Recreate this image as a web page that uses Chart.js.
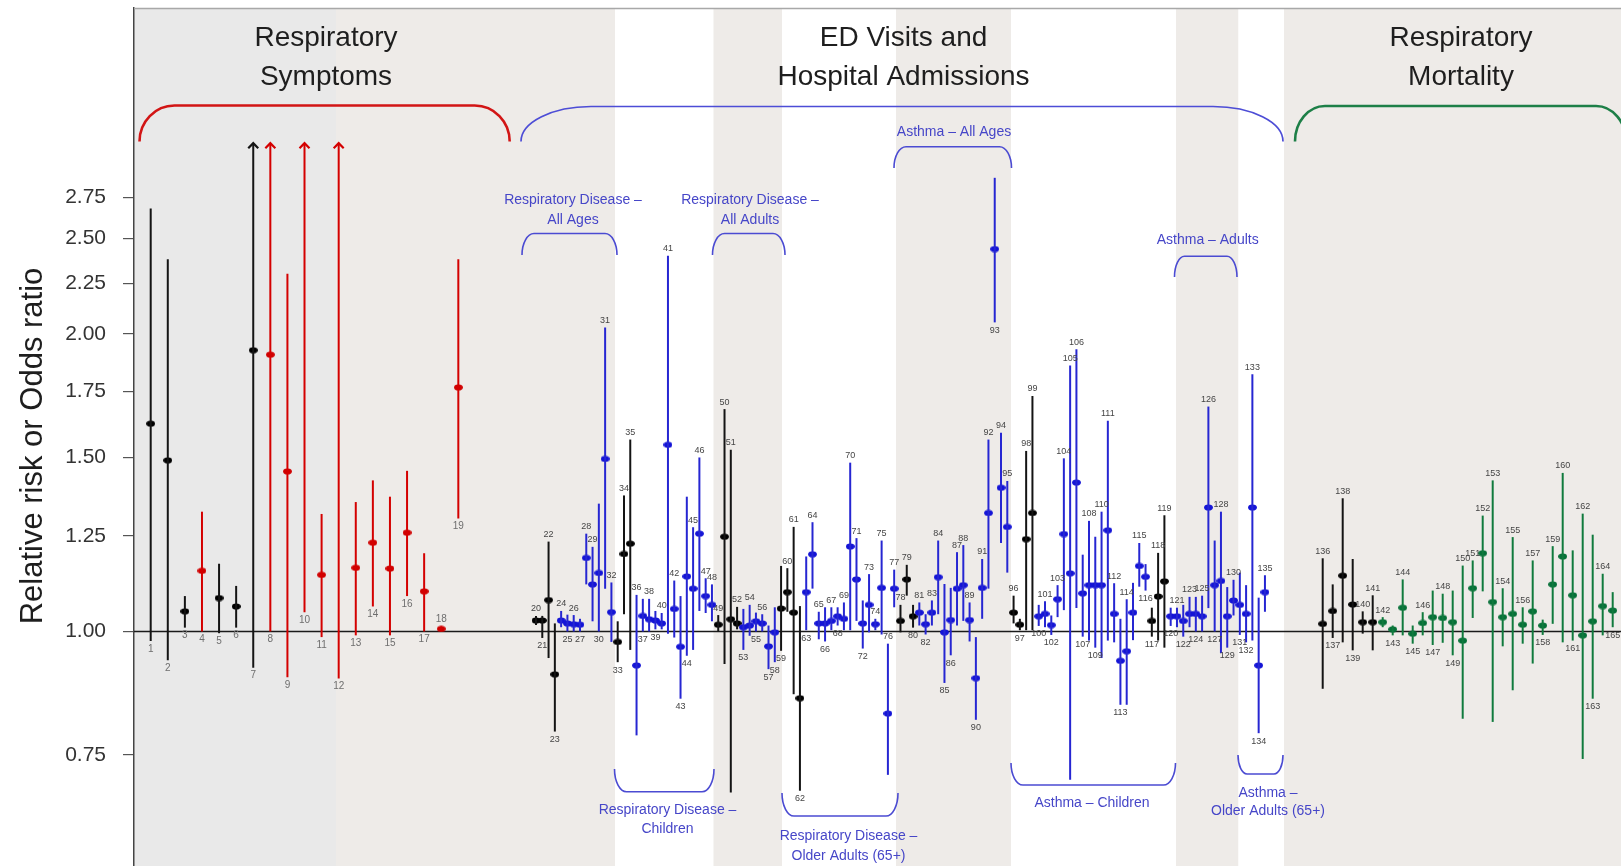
<!DOCTYPE html>
<html>
<head>
<meta charset="utf-8">
<script src="https://cdn.jsdelivr.net/npm/chart.js@4.4.0/dist/chart.umd.min.js"></script>
<style>
  html, body { margin: 0; padding: 0; background: #fff; }
  canvas { display: block; }
</style>
</head>
<body>
<canvas id="forest" width="1621" height="866"></canvas>
<script>
const yTicks = [0.75, 1.00, 1.25, 1.50, 1.75, 2.00, 2.25, 2.50, 2.75];

// Respiratory symptoms (studies 1-19)
const symLabels = [1, 2, 3, 4, 5, 6, 7, 8, 9, 10, 11, 12, 13, 14, 15, 16, 17, 18, 19];
const symEst  = [1.623, 1.49, 1.048, 1.152, 1.081, 1.06, 1.926, 1.906, 1.452, null, 1.141, null, 1.16, 1.23, 1.158, 1.259, 1.098, 1.006, 1.766];
const symLow  = [0.978, 0.935, 1.009, 1.0, 0.996, 1.009, 0.919, 1.0, 0.899, 1.046, 0.987, 0.896, 0.991, 1.06, 0.991, 1.086, 1.0, 1.0, 1.301];
const symHigh = [2.68, 2.38, 1.086, 1.322, 1.171, 1.112, 3.12, 3.12, 2.302, 3.12, 1.315, 3.12, 1.352, 1.422, 1.369, 1.454, 1.2, 1.012, 2.38];
const symKind = 'kkkrkkkrrrrrrrrrrrr'.split('');
const symSide = 'bbbbbbbbbbbbbbbbbab'.split('');
const openTop = [7, 8, 10, 12];   // upper limit runs off the scale

// ED visits and hospital admissions (studies 20-135, one unnumbered estimate after 114)
const edLabels = [20, 21, 22, 23, 24, 25, 26, 27, 28, 29, 30, 31, 32, 33, 34, 35, 36, 37, 38, 39,
  40, 41, 42, 43, 44, 45, 46, 47, 48, 49, 50, 51, 52, 53, 54, 55, 56, 57, 58, 59,
  60, 61, 62, 63, 64, 65, 66, 67, 68, 69, 70, 71, 72, 73, 74, 75, 76, 77, 78, 79,
  80, 81, 82, 83, 84, 85, 86, 87, 88, 89, 90, 91, 92, 93, 94, 95, 96, 97, 98, 99,
  100, 101, 102, 103, 104, 105, 106, 107, 108, 109, 110, 111, 112, 113, 114, null, 115, 116, 117, 118, 119,
  120, 121, 122, 123, 124, 125, 126, 127, 128, 129, 130, 131, 132, 133, 134, 135];
const edEst = [1.026, 1.026, 1.076, 0.905, 1.026, 1.019, 1.017, 1.016, 1.187, 1.116,
  1.146, 1.495, 1.046, 0.976, 1.198, 1.227, 0.924, 1.037, 1.029, 1.026,
  1.019, 1.545, 1.054, 0.965, 1.137, 1.105, 1.256, 1.086, 1.064, 1.016,
  1.247, 1.029, 1.019, 1.010, 1.014, 1.024, 1.019, 0.966, 0.998, 1.055,
  1.096, 1.045, 0.856, 1.096, 1.197, 1.019, 1.019, 1.025, 1.036, 1.030,
  1.219, 1.129, 1.019, 1.064, 1.017, 1.107, 0.826, 1.105, 1.025, 1.129,
  1.036, 1.045, 1.017, 1.045, 1.135, 0.998, 1.027, 1.105, 1.114, 1.027,
  0.897, 1.107, 1.318, 2.438, 1.398, 1.276, 1.045, 1.016, 1.240, 1.318,
  1.036, 1.042, 1.015, 1.078, 1.255, 1.145, 1.415, 1.093, 1.114, 1.114,
  1.114, 1.266, 1.042, 0.934, 0.955, 1.045, 1.165, 1.136, 1.025, 1.085, 1.124,
  1.036, 1.036, 1.025, 1.042, 1.042, 1.036, 1.335, 1.114, 1.125, 1.036,
  1.075, 1.064, 1.042, 1.335, 0.924, 1.096];
const edLow = [1.015, 0.985, 0.94, 0.792, 1.01, 1.0, 1.0, 1.0, 1.116, 1.024,
  1.0, 1.105, 0.976, 0.931, 1.041, 0.958, 0.785, 1.0, 1.0, 1.005,
  1.005, 0.995, 0.986, 0.855, 0.945, 0.958, 1.049, 1.044, 1.024, 1.0,
  0.927, 0.687, 1.005, 0.958, 0.99, 1.0, 1.0, 0.916, 0.931, 0.956,
  1.047, 0.864, 0.69, 1.003, 1.105, 0.982, 0.977, 1.003, 1.014, 1.003,
  1.003, 1.025, 0.961, 0.998, 1.003, 0.993, 0.716, 1.058, 0.998, 1.087,
  1.009, 1.014, 0.993, 1.014, 1.041, 0.887, 0.946, 1.014, 1.025, 0.977,
  0.814, 1.03, 1.105, 2.055, 1.229, 1.147, 1.019, 1.003, 1.003, 1.003,
  1.013, 1.01, 0.992, 1.034, 1.051, 0.708, 1.056, 0.988, 0.979, 0.963,
  0.94, 0.979, 0.975, 0.843, 0.843, 0.98, 1.11, 1.10, 0.988, 0.979, 0.963,
  1.013, 1.01, 0.988, 1.01, 1.0, 1.0, 1.056, 1.0, 0.951, 0.963,
  1.038, 0.992, 0.975, 0.979, 0.789, 1.047];
const edHigh = [1.037, 1.037, 1.233, 1.019, 1.049, 1.04, 1.039, 1.03, 1.256, 1.218,
  1.347, 2.031, 1.121, 1.024, 1.373, 1.564, 1.089, 1.079, 1.079, 1.049,
  1.044, 2.4, 1.126, 1.086, 1.369, 1.275, 1.5, 1.132, 1.116, 1.039,
  1.679, 1.527, 1.059, 1.054, 1.064, 1.045, 1.041, 1.014, 1.058, 1.165,
  1.159, 1.276, 1.061, 1.191, 1.29, 1.047, 1.058, 1.058, 1.058, 1.07,
  1.482, 1.243, 1.075, 1.143, 1.03, 1.236, 0.972, 1.155, 1.064, 1.168,
  1.064, 1.07, 1.041, 1.075, 1.236, 1.117, 1.107, 1.203, 1.223, 1.07,
  0.987, 1.184, 1.564, 2.878, 1.589, 1.42, 1.087, 1.03, 1.523, 1.731,
  1.064, 1.073, 1.038, 1.114, 1.497, 1.859, 1.93, 1.196, 1.294, 1.247,
  1.322, 1.634, 1.119, 1.03, 1.078, 1.12, 1.229, 1.17, 1.057, 1.201, 1.311,
  1.057, 1.057, 1.064, 1.084, 1.084, 1.087, 1.689, 1.236, 1.322, 1.109,
  1.128, 1.147, 1.114, 1.821, 1.082, 1.14];
const edKind = ('kkkk' + 'bbbbbbbbb' + 'kkk' + 'bbbbbbbbbbbbb' + 'kkkk' + 'bbbbbb' + 'kkkk' +
  'bbbbbbbbbbbbbbb' + 'kkk' + 'bbbbbbbbbbbbbbb' + 'kkkk' + 'bbbbbbbbbbbbbbb' + 'b' + 'bb' + 'kkk' +
  'bbbbbbbbbbbbbbbb').split('');
const edSide = ('ababababaa' + 'baabaaabab' + 'aaabbaaaaa' + 'aaabababbb' + 'aabbaababa' +
  'aabaaaaaaa' + 'babaabbaaa' + 'baabaaabaa' + 'babaaaabab' + 'aaaba' + '-' + 'abbaa' +
  'bababaabab' + 'abbaba').split('');

// Respiratory mortality (studies 136-165)
const mortLabels = [136, 137, 138, 139, 140, 141, 142, 143, 144, 145, 146, 147, 148, 149, 150,
  151, 152, 153, 154, 155, 156, 157, 158, 159, 160, 161, 162, 163, 164, 165];
const mortEst  = [1.018, 1.049, 1.139, 1.065, 1.022, 1.022, 1.022, 1.005, 1.057, 0.995, 1.02, 1.034, 1.032, 1.022, 0.979,
  1.106, 1.2, 1.071, 1.034, 1.042, 1.016, 1.048, 1.014, 1.116, 1.191, 1.088, 0.991, 1.024, 1.061, 1.05];
const mortLow  = [0.875, 0.985, 0.975, 0.957, 0.995, 0.957, 1.01, 0.991, 0.991, 0.972, 0.991, 0.969, 0.974, 0.946, 0.816,
  1.032, 1.098, 0.81, 0.966, 0.872, 0.972, 0.928, 0.992, 1.018, 0.975, 0.979, 0.743, 0.855, 0.991, 1.01];
const mortHigh = [1.186, 1.116, 1.364, 1.184, 1.048, 1.088, 1.034, 1.014, 1.129, 1.014, 1.046, 1.1, 1.092, 1.1, 1.166,
  1.18, 1.31, 1.422, 1.106, 1.246, 1.058, 1.18, 1.028, 1.22, 1.447, 1.208, 1.316, 1.253, 1.144, 1.096];
const mortKind = 'kkkkkkgggggggggggggggggggggggg'.split('');
const mortSide = ('ababaaabab' + 'ababaaaaaa' + 'aabaababab').split('');

// ---- look ----
const FONT = '"Liberation Sans", Arial, Helvetica, sans-serif';
const inkOf = { k: '#141414', r: '#d40000', b: '#2626d2', g: '#107a3d' };
const dotOf = { k: '#000000', r: '#d00000', b: '#1414d6', g: '#067038' };

const panels = [
  { labels: symLabels, est: symEst, low: symLow, high: symHigh, kind: symKind, side: symSide,
    first: 16.7, step: 17.09, labelSize: 10, labelInk: '#6e6e6e' },
  { labels: edLabels, est: edEst, low: edLow, high: edHigh, kind: edKind, side: edSide,
    first: 402, step: 6.284, labelSize: 9, labelInk: '#454545' },
  { labels: mortLabels, est: mortEst, low: mortLow, high: mortHigh, kind: mortKind, side: mortSide,
    first: 1188.7, step: 10, labelSize: 9, labelInk: '#454545' }
];

const items = panels.flatMap(p => p.labels.map((lab, i) => ({
  x: p.first + i * p.step,
  label: lab,
  est: p.est[i], low: p.low[i], high: p.high[i],
  kind: p.kind[i], side: p.side[i],
  size: p.labelSize, ink: p.labelInk
})));

// shaded background bands along x (chart units)
const bands = [
  [0, 202, '#e9e9e9'], [202, 481, '#eeebe8'], [481, 579.5, '#ffffff'], [579.5, 648, '#eeebe8'],
  [648, 762, '#ffffff'], [762, 877, '#eeebe8'], [877, 1042, '#ffffff'], [1042, 1104.5, '#eeebe8'],
  [1104.5, 1150, '#ffffff'], [1150, 1487, '#eeebe8']
];

const makeDot = color => {
  const c = document.createElement('canvas');
  c.width = 9; c.height = 7;
  const g = c.getContext('2d');
  g.fillStyle = color;
  g.beginPath();
  g.ellipse(4.5, 3.5, 4.4, 3.1, 0, 0, Math.PI * 2);
  g.fill();
  return c;
};
const dots = {};
Object.keys(dotOf).forEach(k => dots[k] = makeDot(dotOf[k]));

// confidence intervals as one broken line, points as a scatter set
const ciData = [];
items.forEach(it => {
  ciData.push({ x: it.x, y: it.low }, { x: it.x, y: it.high }, { x: it.x, y: null });
});
const withEst = items.filter(it => it.est !== null);
const estData = withEst.map(it => ({ x: it.x, y: it.est }));

const brace = (ctx, x0, x1, yFlat, yEnd, rx) => {
  const ry = Math.abs(yEnd - yFlat);
  ctx.beginPath();
  if (yEnd > yFlat) {
    ctx.ellipse(x0 + rx, yEnd, rx, ry, 0, Math.PI, Math.PI * 1.5);
    ctx.lineTo(x1 - rx, yFlat);
    ctx.ellipse(x1 - rx, yEnd, rx, ry, 0, Math.PI * 1.5, Math.PI * 2);
  } else {
    ctx.ellipse(x0 + rx, yEnd, rx, ry, 0, Math.PI, Math.PI * 0.5, true);
    ctx.lineTo(x1 - rx, yFlat);
    ctx.ellipse(x1 - rx, yEnd, rx, ry, 0, Math.PI * 0.5, 0, true);
  }
  ctx.stroke();
};

const braces = [
  { x0: 139.5, x1: 509.7, flat: 105.5, end: 141.5, rx: 35, ink: '#d21515', w: 2.6 },
  { x0: 521, x1: 1283, flat: 106.5, end: 141.5, rx: 70, ink: '#4d4dd6', w: 1.7 },
  { x0: 1295, x1: 1626, flat: 106, end: 141.5, rx: 30, ink: '#1d7f47', w: 2.6 },
  { x0: 522, x1: 617, flat: 233.5, end: 255, rx: 12, ink: '#4b4bd2', w: 1.6 },
  { x0: 712.5, x1: 785, flat: 233.5, end: 255, rx: 12, ink: '#4b4bd2', w: 1.6 },
  { x0: 894, x1: 1011.5, flat: 146.7, end: 168, rx: 12, ink: '#4b4bd2', w: 1.6 },
  { x0: 1174.5, x1: 1237, flat: 256.3, end: 277, rx: 10, ink: '#4b4bd2', w: 1.6 },
  { x0: 614.5, x1: 714, flat: 791.7, end: 769, rx: 12, ink: '#4b4bd2', w: 1.6 },
  { x0: 782, x1: 898, flat: 816, end: 793, rx: 12, ink: '#4b4bd2', w: 1.6 },
  { x0: 1011, x1: 1175.5, flat: 785, end: 763, rx: 12, ink: '#4b4bd2', w: 1.6 },
  { x0: 1238, x1: 1283, flat: 774, end: 755, rx: 9, ink: '#4b4bd2', w: 1.6 }
];

const titles = [
  ['Respiratory', 326, 45.5], ['Symptoms', 326, 84.5],
  ['ED Visits and', 903.5, 45.5], ['Hospital Admissions', 903.5, 84.5],
  ['Respiratory', 1461, 45.5], ['Mortality', 1461, 84.5]
];

const notes = [
  ['Respiratory Disease \u2013', 573, 200], ['All Ages', 573, 220.5],
  ['Respiratory Disease \u2013', 750, 200], ['All Adults', 750, 220.5],
  ['Asthma \u2013 All Ages', 954, 132.5],
  ['Asthma \u2013 Adults', 1207.7, 240.5],
  ['Respiratory Disease \u2013', 667.5, 810.5], ['Children', 667.5, 829.5],
  ['Respiratory Disease \u2013', 848.5, 836.5], ['Older Adults (65+)', 848.5, 856.5],
  ['Asthma \u2013 Children', 1092, 803],
  ['Asthma \u2013', 1268, 793], ['Older Adults (65+)', 1268, 811.5]
];

const backdrop = {
  id: 'backdrop',
  beforeDraw: chart => {
    const { ctx, chartArea: a, scales: { x } } = chart;
    ctx.save();
    ctx.fillStyle = '#fff';
    ctx.fillRect(0, 0, chart.width, chart.height);
    bands.forEach(([from, to, color]) => {
      const px0 = x.getPixelForValue(from);
      const px1 = x.getPixelForValue(to);
      ctx.fillStyle = color;
      ctx.fillRect(px0, a.top, px1 - px0, a.bottom - a.top);
    });
    ctx.restore();
  },
  beforeDatasetsDraw: chart => {
    const { ctx, chartArea: a, scales: { y } } = chart;
    const py = y.getPixelForValue(1);
    ctx.save();
    ctx.strokeStyle = '#1a1a1a';
    ctx.lineWidth = 1.3;
    ctx.beginPath();
    ctx.moveTo(a.left, py);
    ctx.lineTo(a.right, py);
    ctx.stroke();
    ctx.strokeStyle = '#a8a8a8';
    ctx.lineWidth = 1.5;
    ctx.beginPath();
    ctx.moveTo(a.left, a.top + 0.5);
    ctx.lineTo(a.right, a.top + 0.5);
    ctx.stroke();
    ctx.restore();
  }
};

const overlay = {
  id: 'overlay',
  afterDatasetsDraw: chart => {
    const { ctx, scales: { x, y } } = chart;
    ctx.save();

    // arrow heads on truncated intervals
    items.filter(it => openTop.includes(it.label) && it.x < 400).forEach(it => {
      const px = x.getPixelForValue(it.x);
      const py = y.getPixelForValue(it.high);
      ctx.strokeStyle = inkOf[it.kind];
      ctx.lineWidth = 2.2;
      ctx.beginPath();
      ctx.moveTo(px - 5, py + 5);
      ctx.lineTo(px, py);
      ctx.lineTo(px + 5, py + 5);
      ctx.stroke();
    });

    // study numbers
    ctx.textAlign = 'center';
    ctx.textBaseline = 'middle';
    items.forEach(it => {
      if (it.label === null || it.side === '-') return;
      const px = x.getPixelForValue(it.x);
      const py = it.side === 'a' ? y.getPixelForValue(it.high) - 7 : y.getPixelForValue(it.low) + 8;
      ctx.font = `${it.size}px ${FONT}`;
      ctx.fillStyle = it.ink;
      ctx.fillText(String(it.label), px, py);
    });

    // braces and group names
    braces.forEach(b => {
      ctx.strokeStyle = b.ink;
      ctx.lineWidth = b.w;
      brace(ctx, b.x0, b.x1, b.flat, b.end, b.rx);
    });

    ctx.fillStyle = '#1e1e1e';
    ctx.textBaseline = 'alphabetic';
    ctx.font = `28px ${FONT}`;
    titles.forEach(([t, tx, ty]) => ctx.fillText(t, tx, ty));

    ctx.fillStyle = '#4646c8';
    ctx.textBaseline = 'middle';
    ctx.font = `14px ${FONT}`;
    notes.forEach(([t, tx, ty]) => ctx.fillText(t, tx, ty));

    // y axis title
    ctx.translate(42, 446);
    ctx.rotate(-Math.PI / 2);
    ctx.fillStyle = '#1e1e1e';
    ctx.textBaseline = 'alphabetic';
    ctx.font = `31px ${FONT}`;
    ctx.fillText('Relative risk or Odds ratio', 0, 0);

    ctx.restore();
  }
};

new Chart(document.getElementById('forest'), {
  type: 'scatter',
  data: {
    datasets: [
      {
        type: 'line',
        data: ciData,
        showLine: true,
        spanGaps: false,
        pointRadius: 0,
        borderWidth: 2,
        borderColor: '#000',
        segment: {
          borderColor: c => inkOf[items[Math.floor(c.p0DataIndex / 3)].kind]
        }
      },
      {
        type: 'scatter',
        data: estData,
        pointStyle: c => dots[withEst[c.dataIndex].kind],
        pointRadius: 4,
        pointHoverRadius: 4
      }
    ]
  },
  options: {
    responsive: false,
    devicePixelRatio: 1,
    animation: false,
    events: [],
    layout: { autoPadding: false, padding: { top: 8, left: 0, right: 0, bottom: 0 } },
    plugins: { legend: { display: false }, tooltip: { enabled: false } },
    scales: {
      x: { type: 'linear', min: 0, max: 1487, display: false },
      y: {
        type: 'logarithmic',
        min: 0.579,
        max: 4.275,
        bounds: 'data',
        afterBuildTicks: s => { s.ticks = yTicks.map(v => ({ value: v })); },
        afterFit: s => { s.width = 134; s.paddingTop = 0; s.paddingBottom = 0; },
        ticks: {
          autoSkip: false,
          padding: 17,
          color: '#333',
          font: { family: FONT, size: 21 },
          callback: v => Number(v).toFixed(2)
        },
        grid: { drawOnChartArea: false, drawTicks: true, tickLength: 11, color: '#555', lineWidth: 1.2 },
        border: { display: true, color: '#444', width: 1.5 }
      }
    }
  },
  plugins: [backdrop, overlay]
});
</script>
</body>
</html>
